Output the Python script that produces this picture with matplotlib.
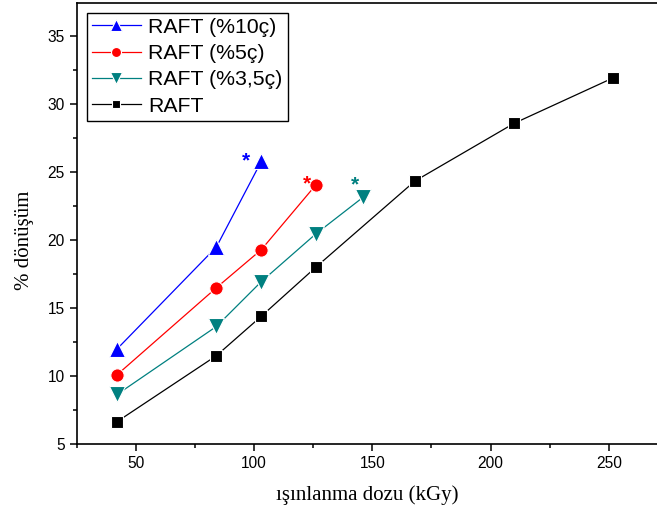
import matplotlib
matplotlib.use("Agg")
import matplotlib.pyplot as plt
from matplotlib.ticker import MultipleLocator

# data
x_raft = [42, 84, 103, 126, 168, 210, 252]
y_raft = [6.65, 11.5, 14.4, 18.0, 24.35, 28.6, 31.95]
x_35 = [42, 84, 103, 126, 146]
y_35 = [8.65, 13.65, 16.95, 20.45, 23.15]
x_5 = [42, 84, 103, 126]
y_5 = [10.1, 16.5, 19.3, 24.05]
x_10 = [42, 84, 103]
y_10 = [12.0, 19.5, 25.8]

labels = ["RAFT (%10ç)", "RAFT (%5ç)", "RAFT (%3,5ç)", "RAFT"]
xlabel = "ışınlanma dozu (kGy)"
ylabel = "% dönüşüm"

fig = plt.figure(figsize=(6.57, 5.21), dpi=100)
ax = fig.add_axes([0.1172, 0.1478, 0.8828 + 0.002, 0.8464])

sans = ["Liberation Sans", "DejaVu Sans"]
serif = ["Liberation Serif", "DejaVu Serif"]

series = [
    (x_10, y_10, "#0000FF", "^", 11.5),
    (x_5, y_5, "#FF0000", "o", 9.6),
    (x_35, y_35, "#008080", "v", 11.5),
    (x_raft, y_raft, "#000000", "s", 8.0),
]
handles = []
for (xs, ys, c, m, ms), lab in zip(series, labels):
    h, = ax.plot(xs, ys, color=c, lw=0.9, marker=m, ms=ms, mfc=c,
                 mec="white", mew=0.8, label=lab)
    handles.append(h)

# asterisks at last points of the shorter series
for xs, ys, c, (dx, dy) in [(x_10, y_10, "#0000FF", (-11, 0)),
                            (x_5, y_5, "#FF0000", (-6.5, 1)),
                            (x_35, y_35, "#008080", (-6, 9))]:
    ax.annotate("*", xy=(xs[-1], ys[-1]), xytext=(dx, dy),
                textcoords="offset points", ha="center", va="center",
                color=c, fontsize=15, fontweight="bold", family=sans)

ax.set_xlim(25, 271)
ax.set_ylim(5, 37.45)
ax.xaxis.set_major_locator(MultipleLocator(50))
ax.xaxis.set_minor_locator(MultipleLocator(25))
ax.yaxis.set_major_locator(MultipleLocator(5))
ax.yaxis.set_minor_locator(MultipleLocator(2.5))
ax.tick_params(which="major", direction="out", length=5, width=1.1,
               labelsize=11.2, pad=4)
ax.tick_params(which="minor", direction="out", length=3, width=1.1)
for lab in ax.get_xticklabels() + ax.get_yticklabels():
    lab.set_family(sans)
for s in ax.spines.values():
    s.set_linewidth(1.2)
ax.spines["right"].set_visible(False)

ax.set_xlabel(xlabel, family=serif, fontsize=15, labelpad=10)
ax.set_ylabel(ylabel, family=serif, fontsize=15)
ax.yaxis.set_label_coords(-0.0734, 0.4626)

leg = ax.legend(handles=handles, loc="upper left", prop={"family": sans, "size": 15.3},
                frameon=True, fancybox=False, edgecolor="black", framealpha=1,
                borderaxespad=0.45, handlelength=2.3, handletextpad=0.35,
                labelspacing=0.34, borderpad=0.25, markerscale=0.75)
leg.get_frame().set_linewidth(1.0)

fig.savefig("out.png", dpi=100)
